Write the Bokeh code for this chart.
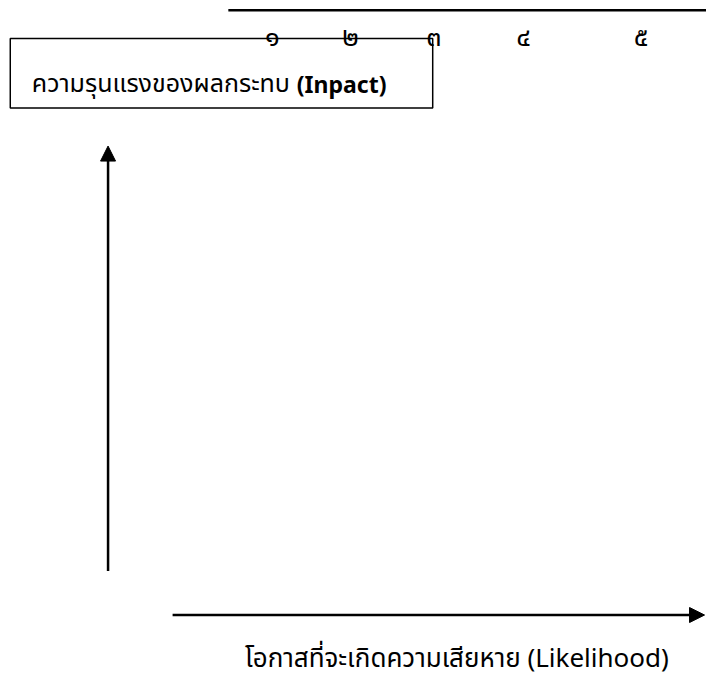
from bokeh.plotting import figure
from bokeh.models import Range1d, Arrow, NormalHead
from bokeh.embed import file_html
from bokeh.resources import INLINE
from bokeh.core.properties import value

# ---- content ----
impact_title_th = "ความรุนแรงของผลกระทบ"
impact_title_en = "(Inpact)"
likelihood_title = "โอกาสที่จะเกิดความเสียหาย (Likelihood)"
level_labels = ["๑", "๒", "๓", "๔", "๕"]

# ---- layout (positions in the reference picture's pixels) ----
level_x = [278, 358, 443, 535, 655]
level_y = [38, 38, 38, 38, 38]

FONT = "'Noto Sans Thai', 'Noto Sans', sans-serif"

W, H = 706, 679
p = figure(width=W, height=H, output_backend="svg", toolbar_location=None,
           x_range=Range1d(0, 722), y_range=Range1d(695, 0),
           min_border=0, outline_line_color=None)
p.axis.visible = False
p.grid.visible = False
p.background_fill_color = "white"
p.border_fill_color = "white"

# top rule
p.segment(x0=[233], y0=[10], x1=[730], y1=[10], line_color="black", line_width=2.5)

# box around the impact title
p.quad(left=[10], right=[442], top=[39], bottom=[110], fill_color=None,
       line_color="black", line_width=1.5)

# level digits
p.text(x=level_x, y=level_y, text=level_labels, text_align="center",
       text_baseline="middle", text_font=value(FONT), text_font_size="27px",
       text_color="black")

# impact title
p.text(x=[32], y=[85], text=[impact_title_th], text_align="left",
       text_baseline="alphabetic", text_font=value(FONT), text_font_size="25px",
       text_color="black")
p.text(x=[303], y=[85], text=[impact_title_en], text_align="left",
       text_baseline="alphabetic", text_font=value("Noto Sans"), text_font_size="23px",
       text_font_style="bold", text_color="black")

# likelihood title
p.text(x=[250], y=[674], text=[likelihood_title], text_align="left",
       text_baseline="alphabetic", text_font=value(FONT), text_font_size="26px",
       text_color="black")

# arrows
p.add_layout(Arrow(end=NormalHead(size=15, fill_color="black", line_color="black"),
                   x_start=110, y_start=584, x_end=110, y_end=149,
                   line_color="black", line_width=2.5))
p.add_layout(Arrow(end=NormalHead(size=15, fill_color="black", line_color="black"),
                   x_start=176, y_start=629, x_end=720, y_end=629,
                   line_color="black", line_width=2.5))

open("out.html", "w").write(file_html(p, INLINE))
